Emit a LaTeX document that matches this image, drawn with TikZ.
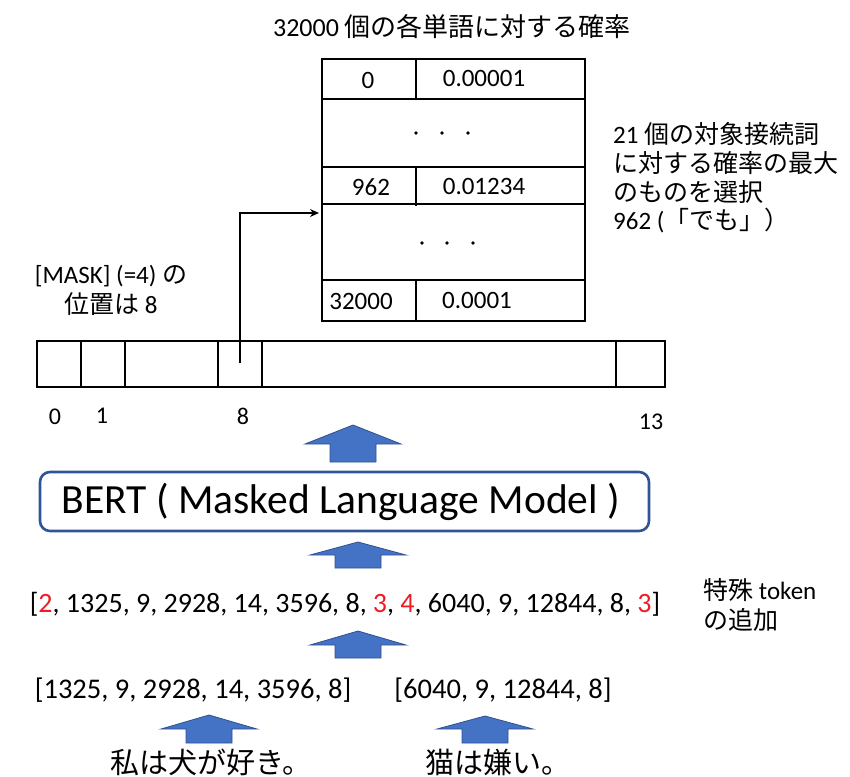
\documentclass[tikz,border=0pt]{standalone}
\usepackage{fontspec}
\setmainfont{Carlito}
\newfontfamily\jp{Noto Sans CJK JP}
\usetikzlibrary{arrows.meta}
\definecolor{arrowblue}{HTML}{4472C4}
\definecolor{arrowedge}{HTML}{2F528F}
\definecolor{boxedge}{HTML}{2F5597}
\definecolor{tokred}{HTML}{EE1C25}
\tikzset{
  txt/.style={inner sep=0pt, font=\fontsize{25}{30}\selectfont},
  bigtxt/.style={inner sep=0pt, font=\fontsize{28.5}{34}\selectfont},
  blk/.style={fill=arrowblue, draw=arrowedge, line width=0.8pt, line join=miter},
  outer/.style={draw=black, line width=2.4pt},
  inner/.style={draw=black, line width=1.6pt},
  dotmark/.style={fill=black, circle, inner sep=0pt, minimum size=3.6pt},
  idxlbl/.style={inner sep=0pt, font=\fontsize{24}{28}\selectfont},
}
\newcommand\blkarrow[4]{%
  \filldraw[blk] (#1,#2) -- (#1+48,#3) -- (#1+23,#3) -- (#1+23,#4) -- (#1-23,#4) -- (#1-23,#3) -- (#1-48,#3) -- cycle;}
\begin{document}
\begin{tikzpicture}[x=1pt,y=-1pt]
\useasboundingbox (0,0) rectangle (850,776);
% title
\node[txt, font=\fontsize{26}{30}\selectfont] (title) at (452,27) {32000 {\jp 個の各単語に対する確率}};
% table
\draw[inner] (322,99) -- (585,99);
\draw[inner] (322,167) -- (585,167);
\draw[inner] (322,204) -- (585,204);
\draw[inner] (322,280) -- (585,280);
\draw[inner] (416,59) -- (416,99);
\draw[inner] (416,167) -- (416,206);
\draw[inner] (416,280) -- (416,321);
\draw[outer] (322,59) rectangle (585,321);
\node[txt] (t0) at (368,80) {0};
\node[txt] (p0) at (484,78) {0.00001};
\node[txt] (t962) at (371,187) {962};
\node[txt] (p962) at (484,186) {0.01234};
\node[txt] (t32000) at (361,301) {32000};
\node[txt] (p32000) at (477,300) {0.0001};
\node[dotmark] (d1) at (416,133) {};
\node[dotmark] (d2) at (442,133) {};
\node[dotmark] (d3) at (468,133) {};
\node[dotmark] (d4) at (422,243) {};
\node[dotmark] (d5) at (447,243) {};
\node[dotmark] (d6) at (473,243) {};
% right note
\node[txt, anchor=west] (r1) at (613,134) {21 {\jp 個の対象接続詞}};
\node[txt, anchor=west] (r2) at (613,163) {\jp に対する確率の最大};
\node[txt, anchor=west] (r3) at (613,192) {\jp のものを選択};
\node[txt, anchor=west] (r4) at (613,221) {962 ({\jp 「でも」）}};
% mask note
\node[txt] (m1) at (111,276) {[MASK] (=4) {\jp の}};
\node[txt] (m2) at (111,304) {{\jp 位置は} 8};
% bar
\draw[outer, line width=2pt] (37,341) rectangle (665,387);
\foreach \xx in {81,125,218,262,616} \draw[line width=1.8pt] (\xx,341) -- (\xx,387);
\node[idxlbl] (l0) at (55,417) {0};
\node[idxlbl] (l1) at (102,416) {1};
\node[idxlbl] (l8) at (243,416) {8};
\node[idxlbl] (l13) at (651,422) {13};
% pointer arrow
\coordinate (src) at (240,363);
\coordinate (bend) at (240,213);
\coordinate (dst) at (319,213);
\draw[line width=1.5pt, -{Stealth[length=9pt,width=8pt]}] (src) -- (bend) -- (dst);
% block arrows
\blkarrow{353}{425}{444}{462}
\blkarrow{358}{542}{555}{568}
\blkarrow{358}{631}{645}{658}
\blkarrow{209}{715}{729}{743}
\blkarrow{485}{716}{729}{743}
% BERT box
\node[draw=boxedge, line width=2.6pt, rounded corners=10pt, minimum width=609pt, minimum height=59pt, inner sep=0pt] (bert) at (344.5,501.5) {};
\node[inner sep=0pt, font=\fontsize{41.5}{48}\selectfont] (berttxt) at (341,502) {BERT ( Masked Language Model )};
% token list
\node[bigtxt, font=\fontsize{28}{34}\selectfont] (tokens) at (345,604) {[\textcolor{tokred}{2}, 1325, 9, 2928, 14, 3596, 8, \textcolor{tokred}{3}, \textcolor{tokred}{4}, 6040, 9, 12844, 8, \textcolor{tokred}{3}]};
\node[txt, anchor=west] (s1) at (703,590) {{\jp 特殊} token};
\node[txt, anchor=west] (s2) at (703,620) {\jp の追加};
% split lists
\node[bigtxt] (list1) at (193,690) {[1325, 9, 2928, 14, 3596, 8]};
\node[bigtxt] (list2) at (503,690) {[6040, 9, 12844, 8]};
% sentences
\node[inner sep=0pt, font=\fontsize{29}{34}\selectfont\jp] (sen1) at (211,762) {私は犬が好き。};
\node[inner sep=0pt, font=\fontsize{29}{34}\selectfont\jp] (sen2) at (498,762) {猫は嫌い。};
\end{tikzpicture}
\end{document}
